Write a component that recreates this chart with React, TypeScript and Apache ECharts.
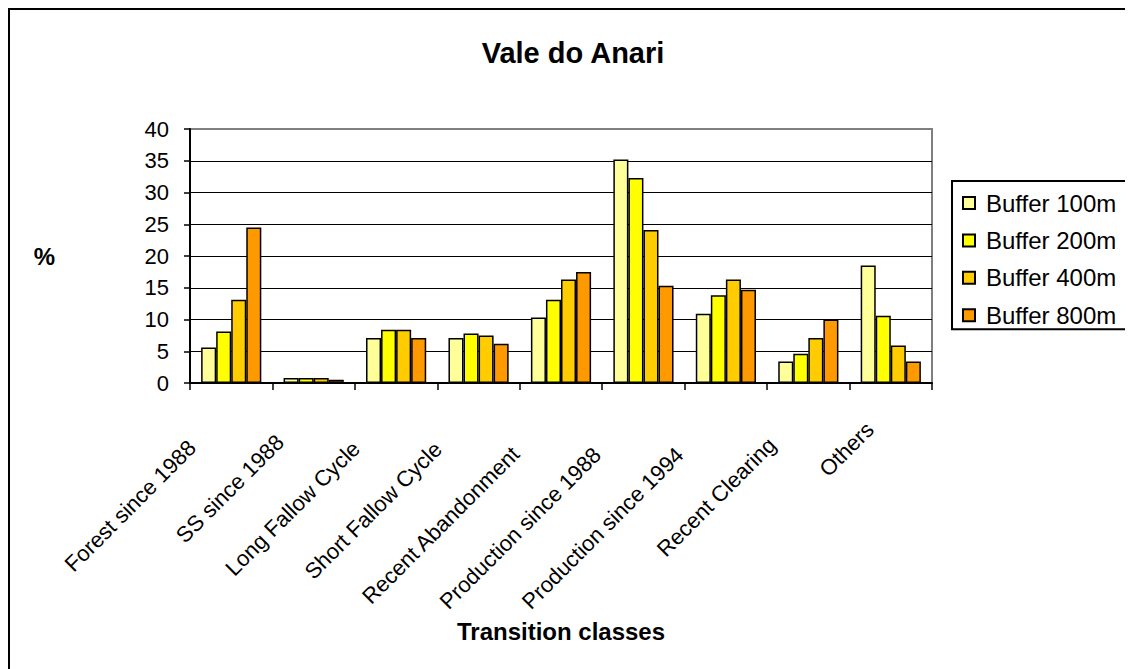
import React, { useEffect, useRef } from "react";
import * as echarts from "echarts";

const categories = [
  "Forest since 1988",
  "SS since 1988",
  "Long Fallow Cycle",
  "Short Fallow Cycle",
  "Recent Abandonment",
  "Production since 1988",
  "Production since 1994",
  "Recent Clearing",
  "Others",
];
const buffer100 = [5.6, 0.8, 7.1, 7.1, 10.3, 35.2, 10.9, 3.4, 18.5];
const buffer200 = [8.1, 0.8, 8.4, 7.8, 13.1, 32.3, 13.8, 4.6, 10.6];
const buffer400 = [13.1, 0.8, 8.4, 7.5, 16.3, 24.1, 16.3, 7.1, 5.9];
const buffer800 = [24.5, 0.5, 7.1, 6.2, 17.5, 15.3, 14.7, 10.0, 3.4];
const seriesNames = ["Buffer 100m", "Buffer 200m", "Buffer 400m", "Buffer 800m"];
const seriesColors = ["#FFFF99", "#FFFF00", "#FFCC00", "#FF9900"];
const yTicks = { min: 0, max: 40, interval: 5 };

const FONT = "'Liberation Sans', Arial, Helvetica, sans-serif";
const CAT_FONT = 22;

function textWidth(s: string, size: number): number {
  const c = document.createElement("canvas");
  const ctx = c.getContext("2d");
  if (!ctx) return s.length * size * 0.5;
  ctx.font = `${size}px ${FONT}`;
  return ctx.measureText(s).width;
}

export default function App() {
  const ref = useRef<HTMLDivElement>(null);
  useEffect(() => {
    if (!ref.current) return;
    const chart = echarts.init(ref.current, undefined, { renderer: "svg" });
    const allSeries = [buffer100, buffer200, buffer400, buffer800];
    const option: any = {
      animation: false,
      backgroundColor: "#ffffff",
      textStyle: { fontFamily: FONT, color: "#000" },
      title: {
        text: "Vale do Anari",
        left: 565,
        top: 30,
        padding: 0,
        textAlign: "center",
        textStyle: { fontFamily: FONT, fontSize: 29, fontWeight: "bold", color: "#000" },
      },
      legend: {
        orient: "vertical",
        left: 944,
        top: 173,
        padding: [10, 11, 2, 10],
        itemGap: 13.4,
        itemWidth: 12,
        itemHeight: 12,
        icon: "rect",
        borderColor: "#000",
        borderWidth: 2,
        backgroundColor: "#fff",
        textStyle: { fontFamily: FONT, fontSize: 24, color: "#000", padding: [0, 0, 0, 6] },
        data: seriesNames,
      },
      grid: {
        left: 182,
        top: 121,
        width: 742,
        height: 254,
        show: true,
        borderColor: "#808080",
        borderWidth: 2,
        backgroundColor: "transparent",
        containLabel: false,
      },
      xAxis: {
        type: "category",
        data: categories.map((c) => ({
          value: c,
          textStyle: { padding: [0, (5.2 * textWidth(c, CAT_FONT)) / CAT_FONT + 14, 0, 0] },
        })),
        name: "Transition classes",
        nameLocation: "middle",
        nameGap: 236,
        nameTextStyle: { fontFamily: FONT, fontSize: 24, fontWeight: "bold", color: "#000" },
        axisLine: { lineStyle: { color: "#000", width: 2 } },
        axisTick: { show: true, length: 7, lineStyle: { color: "#000", width: 1.5 } },
        axisLabel: {
          rotate: 45,
          interval: 0,
          margin: 22,
          fontFamily: FONT,
          fontSize: CAT_FONT,
          color: "#000",
        },
        splitLine: { show: false },
      },
      yAxis: {
        type: "value",
        min: yTicks.min,
        max: yTicks.max,
        interval: yTicks.interval,
        name: "%",
        nameLocation: "middle",
        nameRotate: 0,
        nameGap: 135,
        nameTextStyle: { fontFamily: FONT, fontSize: 24, fontWeight: "bold", color: "#000" },
        axisLine: { show: true, lineStyle: { color: "#000", width: 2 } },
        axisTick: { show: true, length: 6, lineStyle: { color: "#000", width: 1.5 } },
        axisLabel: { margin: 21, fontFamily: FONT, fontSize: 22, color: "#000" },
        splitLine: { show: true, showMaxLine: false, lineStyle: { color: "#000", width: 1 } },
      },
      series: allSeries.map((d, i) => ({
        type: "bar",
        name: seriesNames[i],
        data: d,
        barGap: "0%",
        barCategoryGap: "27%",
        itemStyle: { color: seriesColors[i], borderColor: "#000", borderWidth: 1.5 },
      })),
      graphic: [
        { type: "line", shape: { x1: 1, y1: 0, x2: 1, y2: 661 }, style: { stroke: "#000", lineWidth: 2 } },
        { type: "line", shape: { x1: 0, y1: 1, x2: 1125, y2: 1 }, style: { stroke: "#000", lineWidth: 2 } },
      ],
    };
    chart.setOption(option);
    return () => chart.dispose();
  }, []);
  return <div ref={ref} style={{ width: 1125, height: 661 }} />;
}
